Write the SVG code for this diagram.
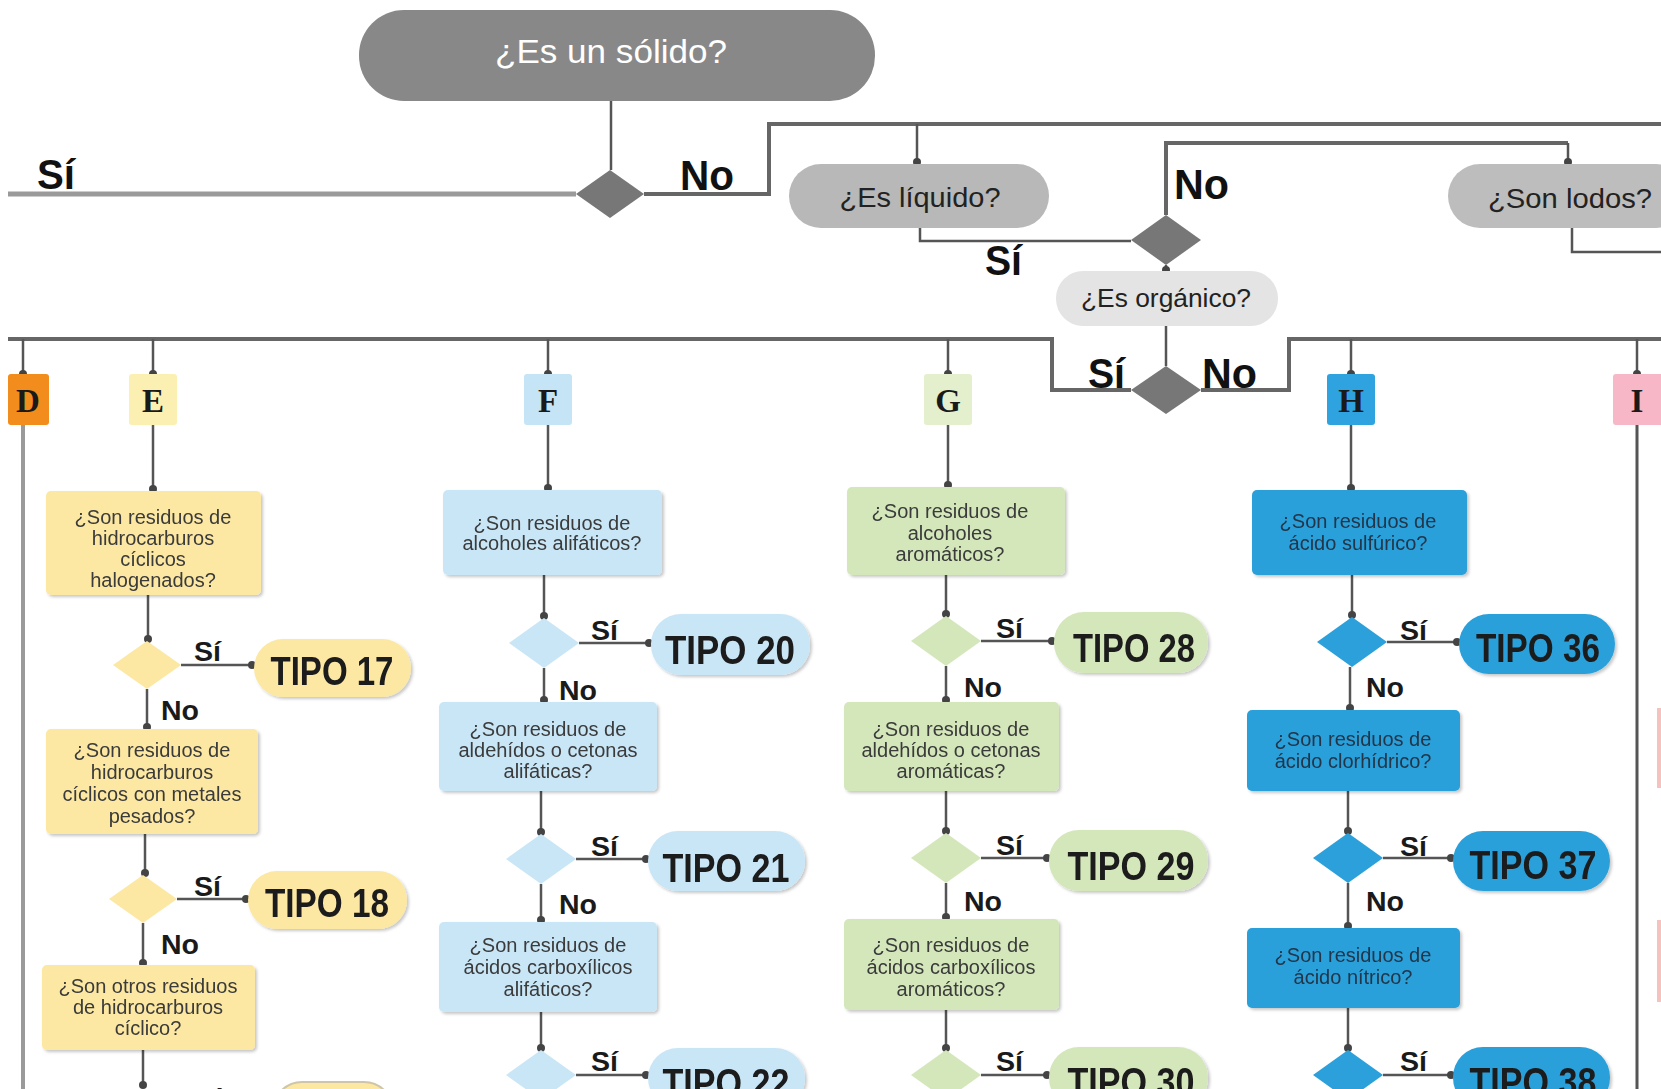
<svg xmlns="http://www.w3.org/2000/svg" width="1661" height="1089" viewBox="0 0 1661 1089">
<style>
  .t{font-family:"Liberation Sans",Arial,sans-serif}
  .q{font-family:"Liberation Sans",Arial,sans-serif;font-size:20px;fill:#3a3a3a;text-anchor:middle}
  .qh{font-family:"Liberation Sans",Arial,sans-serif;font-size:20px;fill:#22364a;text-anchor:middle}
  .yn{font-family:"Liberation Sans",Arial,sans-serif;font-weight:bold;font-size:27px;fill:#1a1a1a}
  .big{font-family:"Liberation Sans",Arial,sans-serif;font-weight:bold;font-size:42px;fill:#111}
  .tipo{font-family:"Liberation Sans",Arial,sans-serif;font-weight:bold;font-size:40px;fill:#1a1a1a;text-anchor:middle}
  .lt{font-family:"Liberation Serif","Times New Roman",serif;font-weight:bold;font-size:33px;fill:#1a1a1a;text-anchor:middle}
  .c{fill:none;stroke:#555;stroke-width:2.5}
  .ct{fill:none;stroke:#666;stroke-width:4}
  .cl{fill:none;stroke:#9a9a9a;stroke-width:5}
  .ye{fill:#fce8a2}
  .bl{fill:#c9e6f7}
  .gr{fill:#d4e7bb}
  .hb{fill:#2ba0da}
</style>
<defs>
  <marker id="dot" viewBox="0 0 10 10" refX="5" refY="5" markerWidth="8" markerHeight="8" markerUnits="userSpaceOnUse">
    <circle cx="5" cy="5" r="5" fill="#444"/>
  </marker>
  <filter id="sh" x="-10%" y="-10%" width="130%" height="140%">
    <feDropShadow dx="2" dy="2" stdDeviation="1.5" flood-color="#000" flood-opacity="0.22"/>
  </filter>
</defs>

<g id="connectors">
  <path class="c" d="M611,101 V170"/>
  <path class="cl" d="M576,194 H8"/>
  <path class="ct" d="M644,194 H769 V124 H1661"/>
  <path class="c" d="M917,124 V162" marker-end="url(#dot)"/>
  <path class="c" d="M920,228 V241 H1131"/>
  <path class="ct" d="M1166,215 V143 H1568"/>
  <path class="c" d="M1568,143 V162" marker-end="url(#dot)"/>
  <path class="c" d="M1166,265 V270" marker-end="url(#dot)"/>
  <path class="c" d="M1166,325 V366"/>
  <path class="ct" d="M1131,390 H1052 V339 H8"/>
  <path class="ct" d="M1201,390 H1289 V339 H1661"/>
  <path class="c" d="M1572,228 V252 H1661"/>
  <path class="c" d="M23,339 V374" marker-end="url(#dot)"/>
  <path class="c" d="M153,339 V374" marker-end="url(#dot)"/>
  <path class="c" d="M548,339 V374" marker-end="url(#dot)"/>
  <path class="c" d="M948,339 V374" marker-end="url(#dot)"/>
  <path class="c" d="M1351,339 V374" marker-end="url(#dot)"/>
  <path class="c" d="M1637,339 V374" marker-end="url(#dot)"/>
  <path fill="none" stroke="#9a9a9a" stroke-width="4" d="M23,425 V1089"/>
  <path fill="none" stroke="#555" stroke-width="3" d="M1637,425 V1089"/>
  <!-- E -->
  <path class="c" d="M153,425 V489" marker-end="url(#dot)"/>
  <path class="c" d="M148,595 V639" marker-end="url(#dot)"/>
  <path class="c" d="M181,665 H252" marker-end="url(#dot)"/>
  <path class="c" d="M147,689 V727" marker-end="url(#dot)"/>
  <path class="c" d="M145,834 V873" marker-end="url(#dot)"/>
  <path class="c" d="M177,899 H246" marker-end="url(#dot)"/>
  <path class="c" d="M143,923 V963" marker-end="url(#dot)"/>
  <path class="c" d="M143,1050 V1085" marker-end="url(#dot)"/>
  <!-- F -->
  <path class="c" d="M548,425 V488" marker-end="url(#dot)"/>
  <path class="c" d="M544,575 V616" marker-end="url(#dot)"/>
  <path class="c" d="M579,643 H649" marker-end="url(#dot)"/>
  <path class="c" d="M544,668 V700" marker-end="url(#dot)"/>
  <path class="c" d="M541,791 V832" marker-end="url(#dot)"/>
  <path class="c" d="M576,859 H646" marker-end="url(#dot)"/>
  <path class="c" d="M541,884 V920" marker-end="url(#dot)"/>
  <path class="c" d="M541,1012 V1048" marker-end="url(#dot)"/>
  <path class="c" d="M576,1075 H646" marker-end="url(#dot)"/>
  <!-- G -->
  <path class="c" d="M948,425 V485" marker-end="url(#dot)"/>
  <path class="c" d="M946,575 V614" marker-end="url(#dot)"/>
  <path class="c" d="M981,641 H1052" marker-end="url(#dot)"/>
  <path class="c" d="M946,666 V700" marker-end="url(#dot)"/>
  <path class="c" d="M946,791 V831" marker-end="url(#dot)"/>
  <path class="c" d="M981,858 H1047" marker-end="url(#dot)"/>
  <path class="c" d="M946,883 V917" marker-end="url(#dot)"/>
  <path class="c" d="M946,1010 V1048" marker-end="url(#dot)"/>
  <path class="c" d="M981,1075 H1047" marker-end="url(#dot)"/>
  <!-- H -->
  <path class="c" d="M1351,425 V488" marker-end="url(#dot)"/>
  <path class="c" d="M1352,575 V615" marker-end="url(#dot)"/>
  <path class="c" d="M1387,642 H1457" marker-end="url(#dot)"/>
  <path class="c" d="M1350,667 V708" marker-end="url(#dot)"/>
  <path class="c" d="M1348,791 V831" marker-end="url(#dot)"/>
  <path class="c" d="M1383,858 H1451" marker-end="url(#dot)"/>
  <path class="c" d="M1348,883 V926" marker-end="url(#dot)"/>
  <path class="c" d="M1348,1008 V1048" marker-end="url(#dot)"/>
  <path class="c" d="M1383,1075 H1451" marker-end="url(#dot)"/>
</g>

<!-- top decisions -->
<g id="solido">
  <rect x="359" y="10" width="516" height="91" rx="45" fill="#888"/>
  <text class="t" x="611" y="63" font-size="34" fill="#fff" text-anchor="middle" textLength="232" lengthAdjust="spacingAndGlyphs">¿Es un sólido?</text>
</g>
<g id="d-solido"><polygon points="610,170 644,194 610,218 576,194" fill="#777"/></g>
<g id="liquido">
  <rect x="789" y="164" width="260" height="64" rx="32" fill="#b8b8b8"/>
  <text class="t" x="920" y="207" font-size="27" fill="#222" text-anchor="middle" textLength="161" lengthAdjust="spacingAndGlyphs">¿Es líquido?</text>
</g>
<g id="d-liquido"><polygon points="1166,215 1201,240 1166,265 1131,240" fill="#777"/></g>
<g id="organico">
  <rect x="1056" y="271" width="222" height="55" rx="27" fill="#e4e4e4"/>
  <text class="t" x="1166" y="307" font-size="26" fill="#222" text-anchor="middle" textLength="170" lengthAdjust="spacingAndGlyphs">¿Es orgánico?</text>
</g>
<g id="d-organico"><polygon points="1166,366 1201,390 1166,414 1131,390" fill="#777"/></g>
<g id="lodos">
  <rect x="1448" y="164" width="240" height="64" rx="32" fill="#bdbdbd"/>
  <text class="t" x="1488" y="208" font-size="28" fill="#222" textLength="164" lengthAdjust="spacingAndGlyphs">¿Son lodos?</text>
</g>

<g id="top-labels">
  <text class="big" x="37" y="189" textLength="38" lengthAdjust="spacingAndGlyphs">Sí</text>
  <text class="big" x="680" y="190" textLength="54" lengthAdjust="spacingAndGlyphs">No</text>
  <text class="big" x="1174" y="199" textLength="55" lengthAdjust="spacingAndGlyphs">No</text>
  <text class="big" x="985" y="275" textLength="37" lengthAdjust="spacingAndGlyphs">Sí</text>
  <text class="big" x="1088" y="388" textLength="37" lengthAdjust="spacingAndGlyphs">Sí</text>
  <text class="big" x="1202" y="388" textLength="55" lengthAdjust="spacingAndGlyphs">No</text>
</g>

<!-- category labels -->
<g id="lab-D"><rect x="8" y="374" width="41" height="51" rx="3" fill="#f28c1c"/><text class="lt" x="28" y="412">D</text></g>
<g id="lab-E"><rect x="129" y="374" width="48" height="51" rx="3" fill="#fcefb2"/><text class="lt" x="153" y="412">E</text></g>
<g id="lab-F"><rect x="524" y="374" width="48" height="51" rx="3" fill="#c5e4f5"/><text class="lt" x="548" y="412">F</text></g>
<g id="lab-G"><rect x="924" y="374" width="48" height="51" rx="3" fill="#e3efcd"/><text class="lt" x="948" y="412">G</text></g>
<g id="lab-H"><rect x="1327" y="374" width="48" height="51" rx="3" fill="#2fa3df"/><text class="lt" x="1351" y="412">H</text></g>
<g id="lab-I"><rect x="1613" y="374" width="52" height="51" rx="3" fill="#f7b7c6"/><text class="lt" x="1637" y="412">I</text></g>

<!-- Column E -->
<g id="e-q1" filter="url(#sh)">
  <rect class="ye" x="46" y="491" width="215" height="104" rx="5"/>
  <text class="q"><tspan x="153" y="524">¿Son residuos de</tspan><tspan x="153" y="545">hidrocarburos</tspan><tspan x="153" y="566">cíclicos</tspan><tspan x="153" y="587">halogenados?</tspan></text>
</g>
<g id="e-d1"><polygon class="ye" points="147,641 181,665 147,689 113,665"/></g>
<g id="e-t17" filter="url(#sh)">
  <rect class="ye" x="254" y="639" width="157" height="58" rx="29"/>
  <text class="tipo" x="332" y="685" textLength="123" lengthAdjust="spacingAndGlyphs">TIPO 17</text>
</g>
<g id="e-q2" filter="url(#sh)">
  <rect class="ye" x="46" y="729" width="212" height="105" rx="5"/>
  <text class="q"><tspan x="152" y="757">¿Son residuos de</tspan><tspan x="152" y="779">hidrocarburos</tspan><tspan x="152" y="801">cíclicos con metales</tspan><tspan x="152" y="823">pesados?</tspan></text>
</g>
<g id="e-d2"><polygon class="ye" points="143,875 177,899 143,923 109,899"/></g>
<g id="e-t18" filter="url(#sh)">
  <rect class="ye" x="248" y="871" width="159" height="58" rx="29"/>
  <text class="tipo" x="327" y="917" textLength="124" lengthAdjust="spacingAndGlyphs">TIPO 18</text>
</g>
<g id="e-q3" filter="url(#sh)">
  <rect class="ye" x="42" y="965" width="213" height="85" rx="5"/>
  <text class="q"><tspan x="148" y="993">¿Son otros residuos</tspan><tspan x="148" y="1014">de hidrocarburos</tspan><tspan x="148" y="1035">cíclico?</tspan></text>
</g>
<g id="e-t19"><rect class="ye" x="273" y="1082" width="120" height="58" rx="29" stroke="#cfc6a8" stroke-width="2"/></g>
<g id="e-labels">
  <text class="yn" x="194" y="661" textLength="27" lengthAdjust="spacingAndGlyphs">Sí</text>
  <text class="yn" x="161" y="720" textLength="38" lengthAdjust="spacingAndGlyphs">No</text>
  <text class="yn" x="194" y="896" textLength="27" lengthAdjust="spacingAndGlyphs">Sí</text>
  <text class="yn" x="161" y="954" textLength="38" lengthAdjust="spacingAndGlyphs">No</text>
  <text class="yn" x="194" y="1108" textLength="27" lengthAdjust="spacingAndGlyphs">Sí</text>
</g>

<!-- Column F -->
<g id="f-q1" filter="url(#sh)">
  <rect class="bl" x="443" y="490" width="219" height="85" rx="5"/>
  <text class="q"><tspan x="552" y="530">¿Son residuos de</tspan><tspan x="552" y="550">alcoholes alifáticos?</tspan></text>
</g>
<g id="f-d1"><polygon class="bl" points="544,618 579,643 544,668 509,643"/></g>
<g id="f-t20" filter="url(#sh)">
  <rect class="bl" x="651" y="614" width="159" height="61" rx="30"/>
  <text class="tipo" x="730" y="664" textLength="130" lengthAdjust="spacingAndGlyphs">TIPO 20</text>
</g>
<g id="f-q2" filter="url(#sh)">
  <rect class="bl" x="439" y="702" width="218" height="89" rx="5"/>
  <text class="q"><tspan x="548" y="736">¿Son residuos de</tspan><tspan x="548" y="757">aldehídos o cetonas</tspan><tspan x="548" y="778">alifáticas?</tspan></text>
</g>
<g id="f-d2"><polygon class="bl" points="541,834 576,859 541,884 506,859"/></g>
<g id="f-t21" filter="url(#sh)">
  <rect class="bl" x="648" y="831" width="157" height="60" rx="30"/>
  <text class="tipo" x="726" y="882" textLength="127" lengthAdjust="spacingAndGlyphs">TIPO 21</text>
</g>
<g id="f-q3" filter="url(#sh)">
  <rect class="bl" x="439" y="922" width="218" height="90" rx="5"/>
  <text class="q"><tspan x="548" y="952">¿Son residuos de</tspan><tspan x="548" y="974">ácidos carboxílicos</tspan><tspan x="548" y="996">alifáticos?</tspan></text>
</g>
<g id="f-d3"><polygon class="bl" points="541,1050 576,1075 541,1100 506,1075"/></g>
<g id="f-t22" filter="url(#sh)">
  <rect class="bl" x="648" y="1048" width="157" height="60" rx="30"/>
  <text class="tipo" x="726" y="1097" textLength="127" lengthAdjust="spacingAndGlyphs">TIPO 22</text>
</g>
<g id="f-labels">
  <text class="yn" x="591" y="640" textLength="27" lengthAdjust="spacingAndGlyphs">Sí</text>
  <text class="yn" x="559" y="700" textLength="38" lengthAdjust="spacingAndGlyphs">No</text>
  <text class="yn" x="591" y="856" textLength="27" lengthAdjust="spacingAndGlyphs">Sí</text>
  <text class="yn" x="559" y="914" textLength="38" lengthAdjust="spacingAndGlyphs">No</text>
  <text class="yn" x="591" y="1071" textLength="27" lengthAdjust="spacingAndGlyphs">Sí</text>
</g>

<!-- Column G -->
<g id="g-q1" filter="url(#sh)">
  <rect class="gr" x="847" y="487" width="218" height="88" rx="5"/>
  <text class="q"><tspan x="950" y="518">¿Son residuos de</tspan><tspan x="950" y="540">alcoholes</tspan><tspan x="950" y="561">aromáticos?</tspan></text>
</g>
<g id="g-d1"><polygon class="gr" points="946,616 981,641 946,666 911,641"/></g>
<g id="g-t28" filter="url(#sh)">
  <rect class="gr" x="1054" y="612" width="154" height="61" rx="30"/>
  <text class="tipo" x="1134" y="662" textLength="122" lengthAdjust="spacingAndGlyphs">TIPO 28</text>
</g>
<g id="g-q2" filter="url(#sh)">
  <rect class="gr" x="844" y="702" width="215" height="89" rx="5"/>
  <text class="q"><tspan x="951" y="736">¿Son residuos de</tspan><tspan x="951" y="757">aldehídos o cetonas</tspan><tspan x="951" y="778">aromáticas?</tspan></text>
</g>
<g id="g-d2"><polygon class="gr" points="946,833 981,858 946,883 911,858"/></g>
<g id="g-t29" filter="url(#sh)">
  <rect class="gr" x="1049" y="830" width="159" height="61" rx="30"/>
  <text class="tipo" x="1131" y="880" textLength="127" lengthAdjust="spacingAndGlyphs">TIPO 29</text>
</g>
<g id="g-q3" filter="url(#sh)">
  <rect class="gr" x="844" y="919" width="215" height="91" rx="5"/>
  <text class="q"><tspan x="951" y="952">¿Son residuos de</tspan><tspan x="951" y="974">ácidos carboxílicos</tspan><tspan x="951" y="996">aromáticos?</tspan></text>
</g>
<g id="g-d3"><polygon class="gr" points="946,1050 981,1075 946,1100 911,1075"/></g>
<g id="g-t30" filter="url(#sh)">
  <rect class="gr" x="1049" y="1047" width="159" height="61" rx="30"/>
  <text class="tipo" x="1131" y="1096" textLength="127" lengthAdjust="spacingAndGlyphs">TIPO 30</text>
</g>
<g id="g-labels">
  <text class="yn" x="996" y="638" textLength="27" lengthAdjust="spacingAndGlyphs">Sí</text>
  <text class="yn" x="964" y="697" textLength="38" lengthAdjust="spacingAndGlyphs">No</text>
  <text class="yn" x="996" y="855" textLength="27" lengthAdjust="spacingAndGlyphs">Sí</text>
  <text class="yn" x="964" y="911" textLength="38" lengthAdjust="spacingAndGlyphs">No</text>
  <text class="yn" x="996" y="1071" textLength="27" lengthAdjust="spacingAndGlyphs">Sí</text>
</g>

<!-- Column H -->
<g id="h-q1" filter="url(#sh)">
  <rect class="hb" x="1252" y="490" width="215" height="85" rx="5"/>
  <text class="qh"><tspan x="1358" y="528">¿Son residuos de</tspan><tspan x="1358" y="550">ácido sulfúrico?</tspan></text>
</g>
<g id="h-d1"><polygon class="hb" points="1352,617 1387,642 1352,667 1317,642"/></g>
<g id="h-t36" filter="url(#sh)">
  <rect class="hb" x="1459" y="614" width="156" height="60" rx="30"/>
  <text class="tipo" x="1538" y="662" textLength="124" lengthAdjust="spacingAndGlyphs">TIPO 36</text>
</g>
<g id="h-q2" filter="url(#sh)">
  <rect class="hb" x="1247" y="710" width="213" height="81" rx="5"/>
  <text class="qh"><tspan x="1353" y="746">¿Son residuos de</tspan><tspan x="1353" y="768">ácido clorhídrico?</tspan></text>
</g>
<g id="h-d2"><polygon class="hb" points="1348,833 1383,858 1348,883 1313,858"/></g>
<g id="h-t37" filter="url(#sh)">
  <rect class="hb" x="1453" y="831" width="157" height="60" rx="30"/>
  <text class="tipo" x="1533" y="879" textLength="127" lengthAdjust="spacingAndGlyphs">TIPO 37</text>
</g>
<g id="h-q3" filter="url(#sh)">
  <rect class="hb" x="1247" y="928" width="213" height="80" rx="5"/>
  <text class="qh"><tspan x="1353" y="962">¿Son residuos de</tspan><tspan x="1353" y="984">ácido nítrico?</tspan></text>
</g>
<g id="h-d3"><polygon class="hb" points="1348,1050 1383,1075 1348,1100 1313,1075"/></g>
<g id="h-t38" filter="url(#sh)">
  <rect class="hb" x="1453" y="1047" width="157" height="61" rx="30"/>
  <text class="tipo" x="1533" y="1096" textLength="127" lengthAdjust="spacingAndGlyphs">TIPO 38</text>
</g>
<g id="h-labels">
  <text class="yn" x="1400" y="640" textLength="27" lengthAdjust="spacingAndGlyphs">Sí</text>
  <text class="yn" x="1366" y="697" textLength="38" lengthAdjust="spacingAndGlyphs">No</text>
  <text class="yn" x="1400" y="856" textLength="27" lengthAdjust="spacingAndGlyphs">Sí</text>
  <text class="yn" x="1366" y="911" textLength="38" lengthAdjust="spacingAndGlyphs">No</text>
  <text class="yn" x="1400" y="1071" textLength="27" lengthAdjust="spacingAndGlyphs">Sí</text>
</g>

<!-- Column I (cut off at right edge) -->
<g id="i-edges">
  <rect x="1657" y="708" width="4" height="80" fill="#f6c2bd"/>
  <rect x="1657" y="920" width="4" height="82" fill="#f6c2bd"/>
</g>
</svg>
